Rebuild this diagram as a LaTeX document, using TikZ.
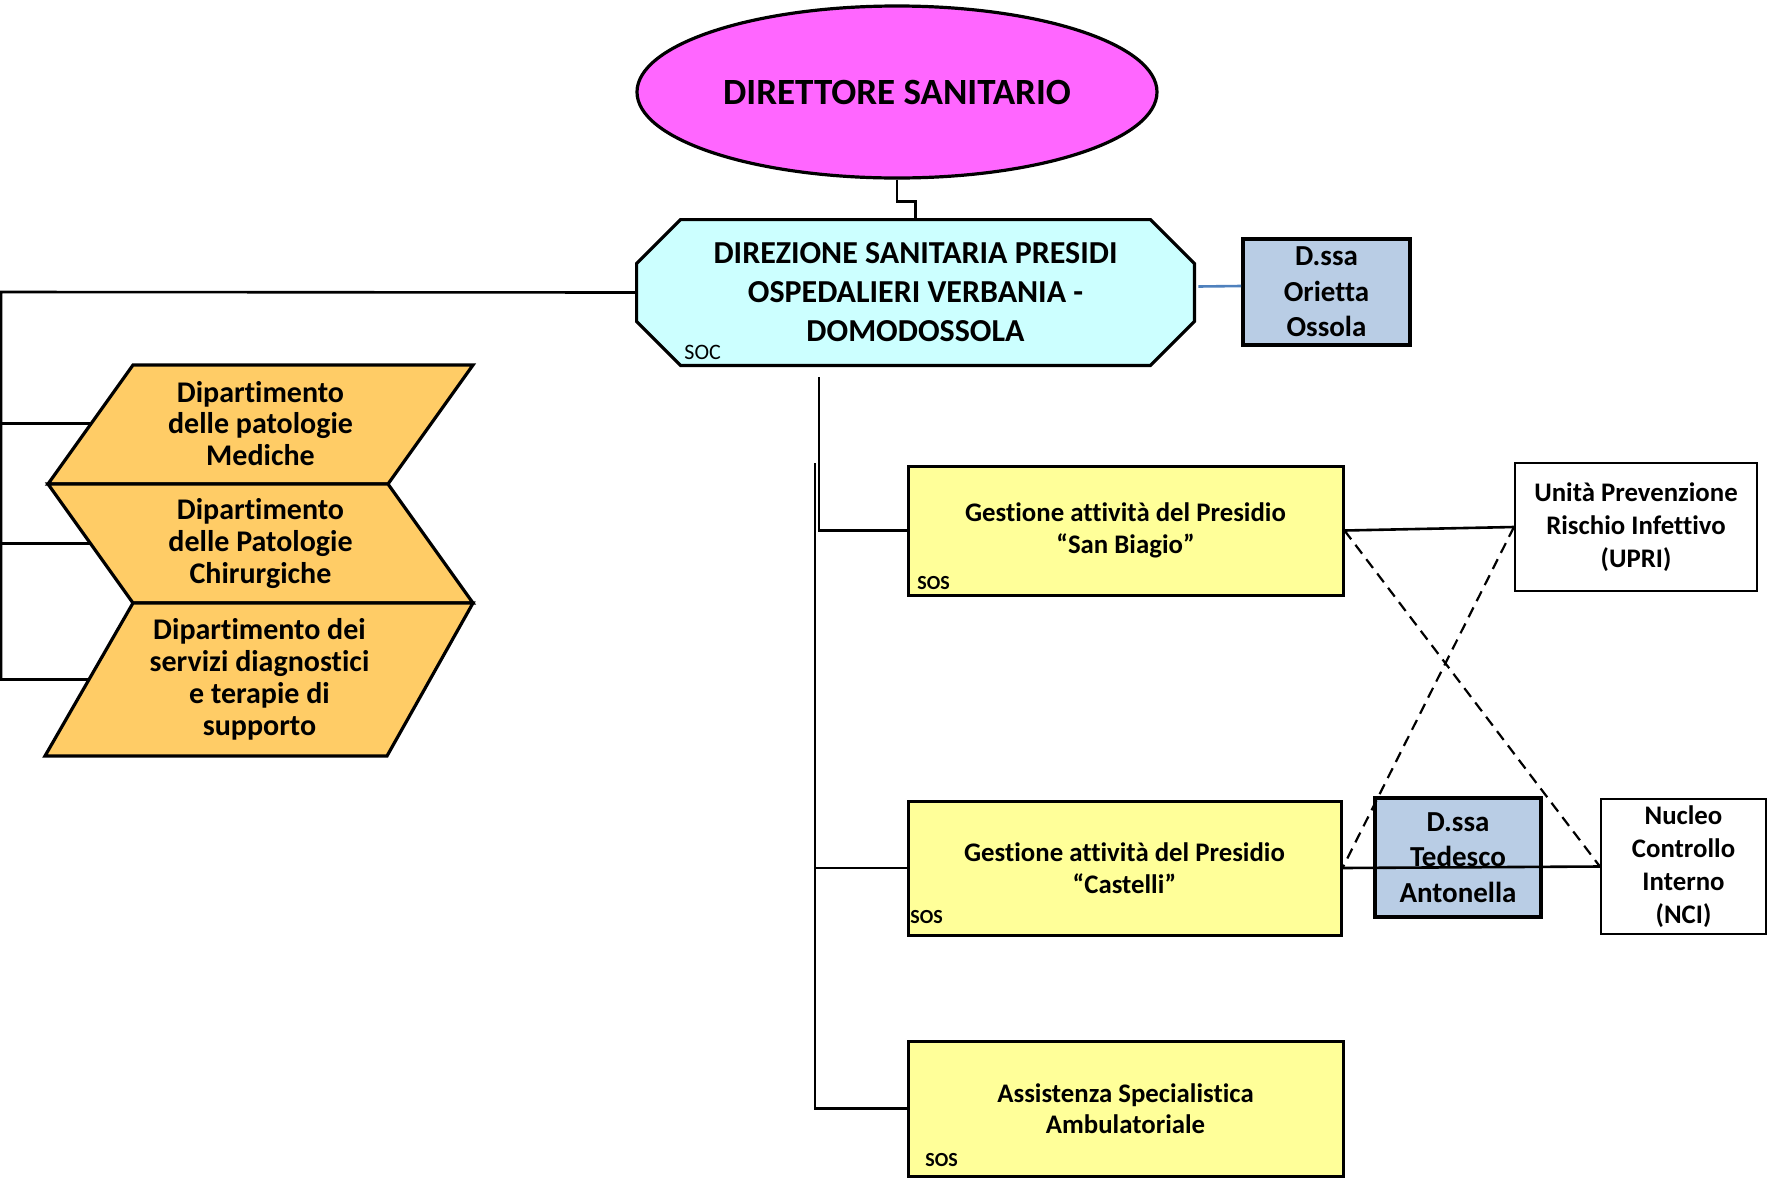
\documentclass[tikz,border=0pt]{standalone}
\usepackage{fontspec}
\setmainfont{Carlito}[Ligatures=NoCommon]
\usetikzlibrary{shapes.geometric}
\definecolor{dirpink}{HTML}{FF66FF}
\definecolor{dircyan}{HTML}{CCFFFF}
\definecolor{persblue}{HTML}{B9CDE5}
\definecolor{deptorange}{HTML}{FFCC66}
\definecolor{sosyellow}{HTML}{FFFF99}
\definecolor{linkblue}{HTML}{4F81BD}
\newcommand{\fsz}[2]{\fontsize{#1}{#2}\selectfont}
\pgfdeclarelayer{back}
\pgfsetlayers{back,main}
\tikzset{
  conn/.style={line width=1.3pt},
  dashlink/.style={line width=1.1pt, dash pattern=on 5.5pt off 3.5pt},
  bluelink/.style={line width=1.3pt, draw=linkblue},
  chief/.style={ellipse, draw, line width=1.6pt, fill=dirpink, inner sep=0pt,
    minimum width=260pt, minimum height=86pt, font=\fsz{18.5}{22}\bfseries},
  socbody/.style={inner sep=0pt, minimum width=278.5pt, minimum height=72.5pt,
    align=center, font=\fsz{16}{19.5}\bfseries},
  octshape/.style={draw, line width=1.6pt, fill=dircyan},
  person/.style={draw, line width=1.8pt, fill=persblue, inner sep=0pt,
    align=center, font=\fsz{14.5}{17.8}\bfseries},
  unit/.style={draw, line width=1.1pt, fill=white, inner sep=0pt,
    align=center, font=\fsz{13.4}{16.4}\bfseries},
  sosbox/.style={draw, line width=1.5pt, fill=sosyellow, inner sep=0pt,
    align=center, font=\fsz{13.4}{15.8}\bfseries},
  depttext/.style={inner sep=0pt, align=center, font=\fsz{15}{15.9}\bfseries},
  deptshape/.style={draw, line width=1.6pt, fill=deptorange},
  soslabel/.style={inner sep=0pt, anchor=west, font=\fsz{10}{12}\bfseries},
  soclabel/.style={inner sep=0pt, anchor=west, font=\fsz{11}{13}}
}

\begin{document}
\begin{tikzpicture}[x=0.5pt,y=-0.5pt]
  \useasboundingbox (0,0) rectangle (1769,1179);

  \node[chief] (dirtore) at (897,92) {DIRETTORE SANITARIO};
  \node[socbody] (dirsan) at (915.5,292.5)
    {DIREZIONE SANITARIA PRESIDI\\OSPEDALIERI VERBANIA -\\DOMODOSSOLA};
  \node[soclabel] (soc) at (684,352) {SOC};
  \node[person, minimum width=83.5pt, minimum height=53pt] (orietta)
    at (1326.5,292) {D.ssa\\Orietta\\Ossola};

  %% departments
  \node[depttext] (chev1) at (260.5,423.5) {Dipartimento\\delle patologie\\Mediche};
  \node[depttext] (chev2) at (260.5,543.5) {Dipartimento\\delle Patologie\\Chirurgiche};
  \node[depttext] (chev3) at (259.5,679.5)
    {Dipartimento dei\\servizi diagnostici\\e terapie di\\supporto};

  %% SOS boxes
  \node[sosbox, minimum width=217.5pt, minimum height=64.5pt] (gest1)
    at (1125.5,530.5) {Gestione attività del Presidio\\“San Biagio”};
  \node[soslabel] (sos1) at (917,583) {SOS};
  \node[sosbox, minimum width=216.5pt, minimum height=67pt] (gest2)
    at (1124.5,868) {Gestione attività del Presidio\\“Castelli”};
  \node[soslabel] (sos2) at (910,917) {SOS};
  \node[sosbox, minimum width=217.5pt, minimum height=67.5pt] (gest3)
    at (1125.5,1108.5) {Assistenza Specialistica\\Ambulatoriale};
  \node[soslabel] (sos3) at (925,1160) {SOS};

  \node[unit, minimum width=121pt, minimum height=64pt] (upri)
    at (1636,527) {Unità Prevenzione\\Rischio Infettivo\\(UPRI)};
  \node[unit, minimum width=82.5pt, minimum height=67.5pt] (nci)
    at (1683.5,866.5) {Nucleo\\Controllo\\Interno\\(NCI)};
  \node[person, minimum width=83pt, minimum height=59.5pt] (tedesco)
    at (1458,857.5) {D.ssa\\Tedesco\\Antonella};

  \coordinate (busL) at (1,292);
  \coordinate (stemA) at (819,377);
  \coordinate (stemB) at (815,463);

  \begin{pgfonlayer}{back}
    \draw[conn] (dirsan.west) -- (busL) |- (chev3); %% soc -> dept 3
    \draw[conn] (busL) |- (chev1);
    \draw[conn] (busL) |- (chev2);

    \draw[deptshape] (chev1.center) ++(-127.5,-58.5)
      -- ++(340,0) -- ++(-85,119) -- ++(-340,0) -- cycle;
    \draw[deptshape] (chev2.center) ++(-212.5,-59.5)
      -- ++(340,0) -- ++(85,119) -- ++(-340,0) -- cycle;
    \draw[deptshape] (chev3.center) ++(-126.5,-76.5)
      -- ++(340,0) -- ++(-86,153) -- ++(-342,0) -- cycle;

    \draw[octshape] ([xshift=22pt]dirsan.north west) -- ([xshift=-22pt]dirsan.north east)
      -- ([yshift=-22pt]dirsan.north east) -- ([yshift=22pt]dirsan.south east)
      -- ([xshift=-22pt]dirsan.south east) -- ([xshift=22pt]dirsan.south west)
      -- ([yshift=22pt]dirsan.south west) -- ([yshift=-22pt]dirsan.north west) -- cycle;
  \end{pgfonlayer}

  \draw[conn] (dirtore.south) -- ++(0,22) -| (dirsan.north); %% dir -> soc
  \draw[bluelink] ([shift={(2pt,3pt)}]dirsan.east) -- ([yshift=3pt]orietta.west);

  \draw[conn] (stemA) |- (gest1.west);
  \draw[conn] (stemB) |- (gest2.west);
  \draw[conn] (stemB) |- (gest3.west);

  \draw[conn] (gest1.east) -- (upri.west); %% san biagio -> upri
  \draw[conn] (gest2.east) -- (nci.west);  %% castelli -> nci
  \draw[dashlink] (gest1.east) -- (nci.west);
  \draw[dashlink] (upri.west) -- (gest2.east);

\end{tikzpicture}
\end{document}
